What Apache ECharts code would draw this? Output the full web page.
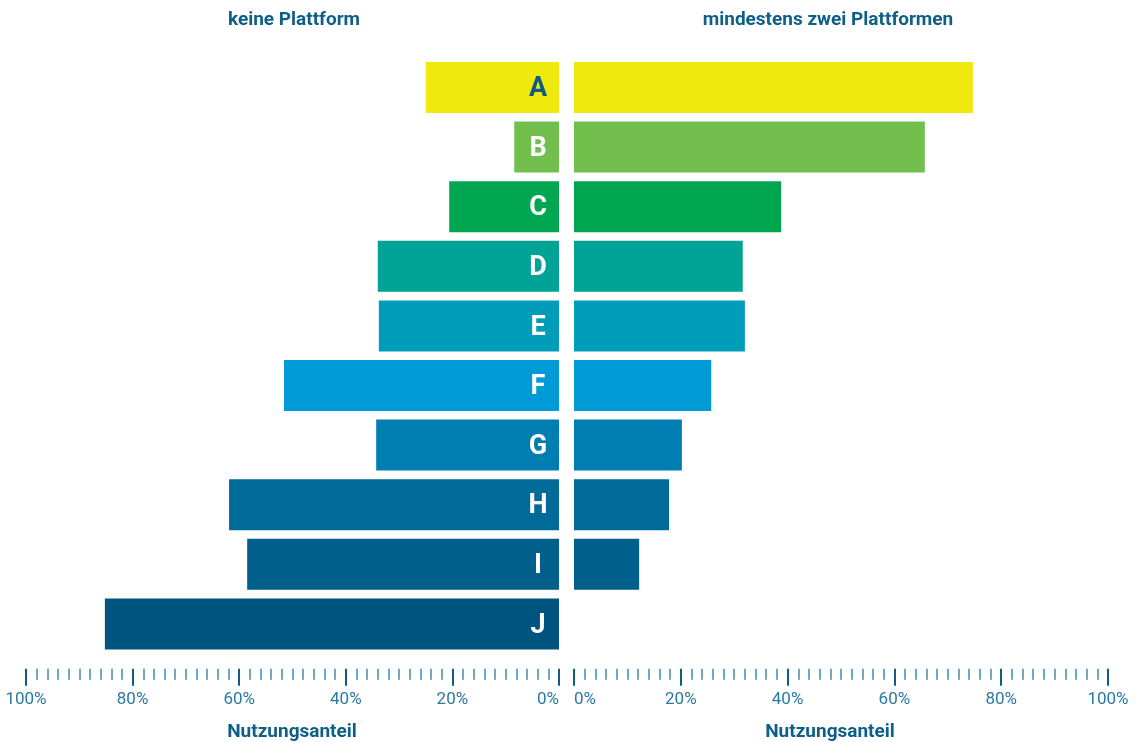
<!DOCTYPE html>
<html>
<head>
<meta charset="utf-8">
<script src="https://cdn.jsdelivr.net/npm/echarts@6/dist/echarts.min.js"></script>
<style>
  html, body { margin: 0; padding: 0; background: #ffffff; }
  #chart { width: 1143px; height: 742px; }
</style>
</head>
<body>
<div id="chart"></div>
<script>
// Kategorien (von oben nach unten)
const categories = ['A', 'B', 'C', 'D', 'E', 'F', 'G', 'H', 'I', 'J'];
// Nutzungsanteil in %: keine Plattform
const noPlatform = [25, 8.4, 20.6, 34, 33.8, 51.6, 34.3, 61.9, 58.5, 85.2];
// Nutzungsanteil in %: mindestens zwei Plattformen
const twoPlusPlatforms = [74.7, 65.7, 38.8, 31.6, 32, 25.7, 20.2, 17.8, 12.2, 0];
// Balkenfarben je Kategorie
const barColors = ['#efe90e', '#72bf4e', '#00a650', '#00a396', '#009dbb',
                   '#009ad6', '#007eb1', '#006a99', '#005f8b', '#005580'];
// Beschriftungsfarbe der Buchstaben je Kategorie
const letterColors = ['#0b5a87', '#ffffff', '#ffffff', '#ffffff', '#ffffff',
                      '#ffffff', '#ffffff', '#ffffff', '#ffffff', '#ffffff'];
// Achsentitel und Überschriften
const leftHeading = 'keine Plattform';
const rightHeading = 'mindestens zwei Plattformen';
const axisTitle = 'Nutzungsanteil';

const FONT = 'Roboto, "DejaVu Sans", sans-serif';
const DARK = '#0d5f87';
const LABEL = '#2a7aa1';

function valueAxis(gridIndex, inverse, minAlign) {
  return {
    type: 'value',
    gridIndex: gridIndex,
    min: 0,
    max: 100,
    interval: 20,
    inverse: inverse,
    offset: 15,
    axisLine: { show: false },
    axisTick: { show: true, length: 17, lineStyle: { color: DARK, width: 2 } },
    minorTick: { show: true, splitNumber: 10, length: 11, lineStyle: { color: '#3c8bb0', width: 1.5 } },
    splitLine: { show: false },
    minorSplitLine: { show: false },
    axisLabel: {
      margin: 23,
      color: LABEL,
      fontFamily: FONT,
      fontSize: 17,
      alignMinLabel: minAlign,
      formatter: '{value}%'
    }
  };
}

function catAxis(gridIndex) {
  return {
    type: 'category',
    gridIndex: gridIndex,
    data: categories,
    inverse: true,
    show: false
  };
}

function barSeries(axisIndex, values, withLetters) {
  return {
    type: 'bar',
    xAxisIndex: axisIndex,
    yAxisIndex: axisIndex,
    barWidth: 51,
    data: values.map((v, i) => ({
      value: v,
      itemStyle: { color: barColors[i] },
      label: withLetters ? { color: letterColors[i] } : undefined
    })),
    label: withLetters ? {
      show: true,
      position: 'insideRight',
      distance: 21,
      align: 'center',
      offset: [0, 2],
      formatter: p => categories[p.dataIndex],
      fontFamily: FONT,
      fontWeight: 'bold',
      fontSize: 27
    } : { show: false },
    silent: true,
    animation: false
  };
}

const chart = echarts.init(document.getElementById('chart'));
chart.setOption({
  backgroundColor: '#ffffff',
  animation: false,
  grid: [
    { left: 26, width: 533, top: 57.7, height: 596 },
    { left: 574, width: 534, top: 57.7, height: 596 }
  ],
  xAxis: [valueAxis(0, true, 'right'), valueAxis(1, false, 'left')],
  yAxis: [catAxis(0), catAxis(1)],
  series: [
    barSeries(0, noPlatform, true),
    barSeries(1, twoPlusPlatforms, false)
  ],
  graphic: [
    { type: 'text', x: 294, y: 20, style: { text: leftHeading, align: 'center', verticalAlign: 'middle', fill: DARK, font: 'bold 19px ' + FONT } },
    { type: 'text', x: 828, y: 20, style: { text: rightHeading, align: 'center', verticalAlign: 'middle', fill: DARK, font: 'bold 19px ' + FONT } },
    { type: 'text', x: 292, y: 732, style: { text: axisTitle, align: 'center', verticalAlign: 'middle', fill: DARK, font: 'bold 19px ' + FONT } },
    { type: 'text', x: 830, y: 732, style: { text: axisTitle, align: 'center', verticalAlign: 'middle', fill: DARK, font: 'bold 19px ' + FONT } }
  ]
});
</script>
</body>
</html>
